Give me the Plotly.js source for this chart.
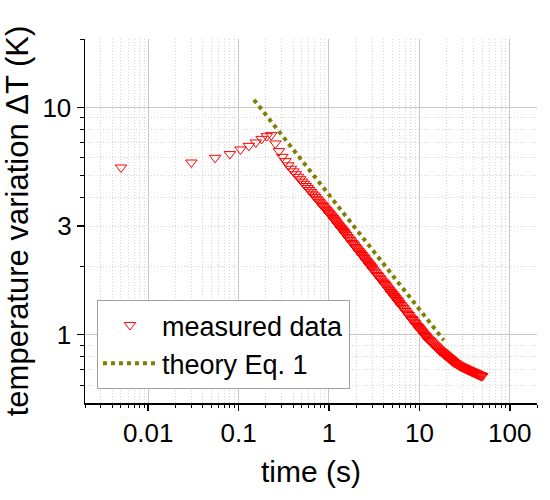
<!DOCTYPE html>
<html>
<head>
<meta charset="utf-8">
<script src="https://cdn.plot.ly/plotly-3.0.1.min.js"></script>
<style>html,body{margin:0;padding:0;background:#fff;}#chart{width:550px;height:500px;}</style>
</head>
<body>
<div id="chart"></div>
<script>
// heating phase (sparse samples)
const heatTime = [0.005, 0.03, 0.055, 0.08, 0.105, 0.13, 0.155, 0.18, 0.205, 0.23];
const heatTemp = [5.44, 5.72, 6.00, 6.23, 6.53, 6.77, 7.01, 7.27, 7.47, 7.55];

// cooling phase
const coolTime = [
  0.255,0.28,0.305,0.33,0.355,0.38,0.405,0.43,0.455,0.48,0.505,0.53,0.555,0.58,0.605,0.63,0.655,0.68,0.705,0.73,
  0.755,0.78,0.805,0.83,0.855,0.88,0.905,0.93,0.955,0.98,
  1.0,1.025,1.05,1.075,1.1,1.125,1.15,1.175,1.2,1.225,1.25,1.275,1.3,1.325,1.35,1.375,1.4,1.425,1.45,1.475,1.5,
  1.55,1.6,1.65,1.7,1.75,1.8,1.85,1.9,1.95,2.0,2.05,2.1,2.15,2.2,2.25,2.3,2.35,2.4,2.45,2.5,
  2.55,2.6,2.65,2.7,2.75,2.8,2.85,2.9,2.95,3.0,
  3.1,3.2,3.3,3.4,3.5,3.6,3.7,3.8,3.9,4.0,4.1,4.2,4.3,4.4,4.5,4.6,4.7,4.8,4.9,5.0,
  5.1,5.2,5.3,5.4,5.5,5.6,5.7,5.8,5.9,6.0,
  6.2,6.4,6.6,6.8,7.0,7.2,7.4,7.6,7.8,8.0,8.2,8.4,8.6,8.8,9.0,9.2,9.4,9.6,9.8,10.0,
  10.2,10.4,10.6,10.8,11.0,11.2,11.4,11.6,11.8,12.0,
  12.4,12.8,13.2,13.6,14.0,14.4,14.8,15.2,15.6,16.0,16.4,16.8,17.2,17.6,18.0,18.4,18.8,19.2,19.6,20.0,
  20.4,20.8,21.2,21.6,22.0,22.4,22.8,23.2,23.6,24.0,
  24.8,25.6,26.4,27.2,28.0,28.8,29.6,30.4,31.2,32.0,32.8,33.6,34.4,35.2,36.0,36.8,37.6,38.4,39.2,40.0,
  40.8,41.6,42.4,43.2,44.0,44.8,45.6,46.4,47.2,48.0,48.8,49.6
];
const coolTemp = [
  6.94,6.42,6.06,5.80,5.56,5.37,5.23,5.08,4.95,4.83,4.71,4.61,4.51,4.42,4.33,4.25,4.17,4.10,4.03,3.96,
  3.90,3.84,3.78,3.73,3.68,3.63,3.58,3.54,3.49,3.45,
  3.42,3.38,3.34,3.30,3.26,3.22,3.19,3.15,3.12,3.08,3.05,3.02,2.99,2.96,2.94,2.91,2.88,2.86,2.83,2.81,2.78,
  2.74,2.69,2.65,2.61,2.57,2.53,2.50,2.47,2.43,2.40,2.37,2.34,2.32,2.29,2.26,2.24,2.21,2.19,2.17,2.14,
  2.12,2.10,2.08,2.06,2.04,2.02,2.01,1.99,1.97,1.95,
  1.92,1.89,1.86,1.83,1.81,1.78,1.76,1.73,1.71,1.69,1.67,1.65,1.63,1.61,1.59,1.57,1.55,1.54,1.52,1.51,
  1.49,1.48,1.46,1.45,1.43,1.42,1.41,1.40,1.38,1.37,
  1.35,1.33,1.31,1.29,1.27,1.25,1.23,1.22,1.20,1.18,1.17,1.16,1.14,1.13,1.12,1.10,1.09,1.08,1.07,1.06,
  1.05,1.04,1.03,1.02,1.01,1.00,0.994,0.986,0.978,0.970,
  0.959,0.947,0.936,0.925,0.914,0.904,0.894,0.885,0.876,0.867,0.859,0.851,0.844,0.838,0.832,0.826,0.820,0.814,0.809,0.803,
  0.798,0.793,0.788,0.783,0.779,0.774,0.769,0.765,0.761,0.756,
  0.750,0.744,0.738,0.733,0.728,0.724,0.721,0.717,0.714,0.710,0.707,0.703,0.700,0.697,0.695,0.692,0.689,0.686,0.684,0.682,
  0.679,0.677,0.674,0.672,0.670,0.667,0.665,0.663,0.661,0.660,0.658,0.656
];

// theory Eq. 1 (straight line on log-log, end points)
const theoryTime = [0.148, 18.6];
const theoryTemp = [10.8, 0.945];

// ticks
const xTickVals = [0.01, 0.1, 1, 10, 100];
const xTickText = ['0.01', '0.1', '1', '10', '100'];
const yTickVals = [1, 10];
const yTickText = ['1', '10'];
const y2TickVals = [3];
const y2TickText = ['3'];

const xMinor = [];
[0.001, 0.01, 0.1, 1, 10, 100].forEach(function (d) {
  for (let m = 2; m <= 9; m++) xMinor.push(+(m * d).toPrecision(3));
});
const yMinor = [0.6, 0.7, 0.8, 0.9, 2, 3, 4, 5, 6, 7, 8, 9, 20];

const measuredTime = heatTime.concat(coolTime);
const measuredTemp = heatTemp.concat(coolTemp);

const FONT = 'Liberation Sans, Arial, Helvetica, sans-serif';
const xRange = [Math.log10(0.002), Math.log10(200)];
const yRange = [Math.log10(0.5), Math.log10(20)];

const traces = [
  {
    x: measuredTime, y: measuredTemp, type: 'scatter', mode: 'markers',
    name: 'measured data',
    marker: { symbol: 'triangle-down-open', size: 10, color: '#ff0000', line: { width: 1, color: '#ff0000' } }
  },
  {
    x: theoryTime, y: theoryTemp, type: 'scatter', mode: 'lines',
    name: 'theory Eq. 1', yaxis: 'y2',
    line: { color: '#808000', width: 4, dash: 'dot' }
  }
];

const layout = {
  width: 550, height: 500,
  margin: { l: 85, r: 13, t: 39, b: 97 },
  paper_bgcolor: '#ffffff', plot_bgcolor: '#ffffff',
  font: { family: FONT, color: '#000000' },
  showlegend: true,
  legend: {
    x: 0.0265, y: 0.283, xanchor: 'left', yanchor: 'top',
    bgcolor: '#ffffff', bordercolor: '#a0a0a0', borderwidth: 1,
    font: { family: FONT, size: 27, color: '#000000' },
    itemwidth: 54
  },
  xaxis: {
    type: 'log', range: xRange, autorange: false,
    tickmode: 'array', tickvals: xTickVals, ticktext: xTickText,
    ticks: 'outside', ticklen: 6, tickwidth: 1.5, tickcolor: '#000',
    showline: true, linecolor: '#000', linewidth: 1.5, mirror: false,
    showgrid: true, gridcolor: '#c8c8c8', gridwidth: 1, zeroline: false,
    tickfont: { family: FONT, size: 26, color: '#000' },
    title: { text: 'time (s)', font: { family: FONT, size: 30, color: '#000' }, standoff: 14 },
    minor: { tickmode: 'array', tickvals: xMinor, ticks: 'outside', ticklen: 3, tickwidth: 1, tickcolor: '#000',
             showgrid: true, gridcolor: '#d6d6d6', gridwidth: 1, griddash: '1px,2px' }
  },
  yaxis: {
    type: 'log', range: yRange, autorange: false,
    tickmode: 'array', tickvals: yTickVals, ticktext: yTickText,
    ticks: 'outside', ticklen: 7, tickwidth: 1.5, tickcolor: '#000',
    showline: true, linecolor: '#000', linewidth: 1.5, mirror: false,
    showgrid: true, gridcolor: '#c8c8c8', gridwidth: 1, zeroline: false,
    tickfont: { family: FONT, size: 26, color: '#000' },
    title: { text: 'temperature variation ΔT (K)', font: { family: FONT, size: 31, color: '#000' }, standoff: 5 },
    minor: { tickmode: 'array', tickvals: yMinor, ticks: 'outside', ticklen: 4, tickwidth: 1, tickcolor: '#000',
             showgrid: true, gridcolor: '#d6d6d6', gridwidth: 1, griddash: '1px,2px' }
  },
  yaxis2: {
    type: 'log', range: yRange, autorange: false, overlaying: 'y', side: 'left', anchor: 'x',
    tickmode: 'array', tickvals: y2TickVals, ticktext: y2TickText,
    ticks: 'outside', ticklen: 7, tickwidth: 1.5, tickcolor: '#000',
    showline: false, showgrid: false, zeroline: false,
    tickfont: { family: FONT, size: 26, color: '#000' }
  }
};

Plotly.newPlot('chart', traces, layout, { displayModeBar: false, staticPlot: true });
</script>
</body>
</html>
